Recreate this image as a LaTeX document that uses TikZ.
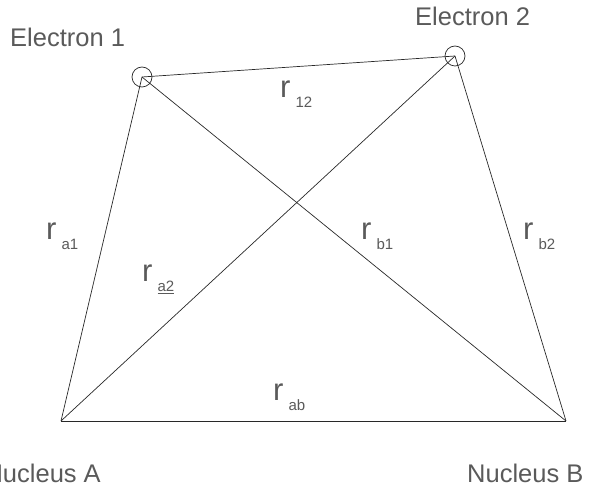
\documentclass[tikz,border=0pt]{standalone}
\usepackage{fontspec}
\setmainfont{Liberation Sans}
\usepackage{tikz}
\usetikzlibrary{positioning}
\definecolor{lineGray}{RGB}{40, 40, 40}
\definecolor{textGray}{RGB}{90, 90, 90}

% distance label: big r with a lowered index
\newcommand{\rdist}[1]{{\fontsize{31}{31}\selectfont r}\hspace{5pt}\raisebox{-10pt}{\fontsize{15}{15}\selectfont #1}}

\begin{document}
\begin{tikzpicture}[
    x=1pt, y=-1pt,
    electron/.style={circle, draw=lineGray, line width=0.7pt, minimum size=20pt, inner sep=0pt},
    bond/.style={-, line width=0.7pt, lineGray},
    particle_label/.style={font=\fontsize{25.5}{25.5}\selectfont, text=textGray, inner sep=0pt},
    dist_label/.style={text=textGray, inner sep=0pt, anchor=base west}
]
    % Frame of the picture
    \useasboundingbox (0, 0) rectangle (597, 486);

    % Particles
    \node[electron] (e1) at (142, 77) {};
    \node[electron] (e2) at (455, 56) {};
    \coordinate (na) at (61, 421);
    \coordinate (nb) at (566, 421);

    % Names of the particles
    \node[particle_label, anchor=base west] (e1name) at (10, 47) {Electron 1};
    \node[particle_label, anchor=base west] (e2name) at (415, 26) {Electron 2};
    \node[particle_label, anchor=base east] (naname) at (101, 482) {Nucleus A};
    \node[particle_label, anchor=base west] (nbname) at (467, 482) {Nucleus B};

    % Distances between all pairs
    \draw[bond] (e1.center) -- (e2.center);
    \draw[bond] (e1.center) -- (na);
    \draw[bond] (e1.center) -- (nb);
    \draw[bond] (e2.center) -- (na);
    \draw[bond] (e2.center) -- (nb);
    \draw[bond] (na) -- (nb);

    % Distance labels
    \node[dist_label] (r12) at (280, 98) {\rdist{12}};
    \node[dist_label] (ra1) at (46, 240) {\rdist{a1}};
    \node[dist_label] (ra2) at (142, 282) {\rdist{\underline{a2}}};
    \node[dist_label] (rb1) at (361, 240) {\rdist{b1}};
    \node[dist_label] (rb2) at (523, 240) {\rdist{b2}};
    \node[dist_label] (rab) at (273, 400) {\rdist{ab}};
\end{tikzpicture}
\end{document}
